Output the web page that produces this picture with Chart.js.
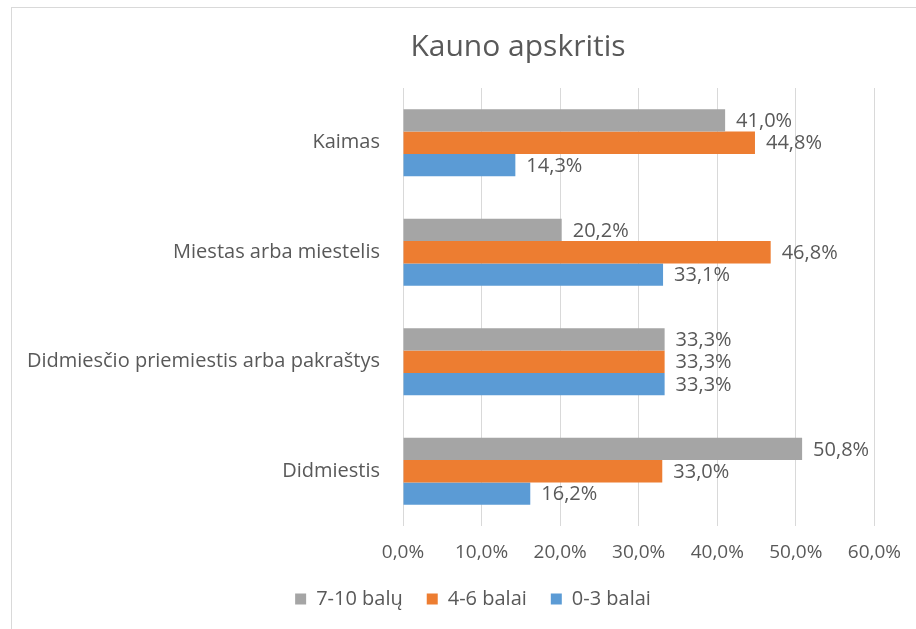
<!DOCTYPE html>
<html>
<head>
<meta charset="utf-8">
<script src="https://cdn.jsdelivr.net/npm/chart.js@4"></script>
<style>
  body { margin: 0; background: #fff; }
  #wrap { position: relative; width: 916px; height: 629px; }
  #frame { position: absolute; left: 11px; top: 7px; right: -2px; bottom: -2px; border-left: 1px solid #d9d9d9; border-top: 1px solid #d9d9d9; pointer-events: none; }
  canvas { position: absolute; left: 0; top: 0; }
</style>
</head>
<body>
<div id="wrap">
  <canvas id="chart" width="916" height="629"></canvas>
  <div id="frame"></div>
</div>
<script>
const categories = ['Kaimas', 'Miestas arba miestelis', 'Didmiesčio priemiestis arba pakraštys', 'Didmiestis'];
const seriesNames = ['7-10 balų', '4-6 balai', '0-3 balai'];
const high = [41.0, 20.2, 33.3, 50.8];
const mid = [44.8, 46.8, 33.3, 33.0];
const low = [14.3, 33.1, 33.3, 16.2];
const colors = ['#a5a5a5', '#ed7d31', '#5b9bd5'];
const chartTitle = 'Kauno apskritis';

const textColor = '#595959';
const fontFamily = '"Open Sans", Lato, sans-serif';

function pct(v) {
    return v.toFixed(1).replace('.', ',') + '%';
}

// Value labels at the end of each bar + title drawn off-centre like the original
const barLabels = {
    id: 'barLabels',
    afterLayout(chart) {
        // legend in the original sits a bit right of centre
        if (chart.legend) {
            chart.legend.left = 68;
            chart.legend.right = 878;
            chart.legend.width = 810;
        }
    },
    afterDatasetsDraw(chart) {
        const ctx = chart.ctx;
        ctx.save();
        ctx.font = '20px ' + fontFamily;
        ctx.fillStyle = textColor;
        ctx.textAlign = 'left';
        ctx.textBaseline = 'middle';
        chart.data.datasets.forEach((ds, i) => {
            const meta = chart.getDatasetMeta(i);
            meta.data.forEach((bar, j) => {
                ctx.fillText(pct(ds.data[j]), bar.x + 11, bar.y + 1);
            });
        });
        ctx.font = '30px ' + fontFamily;
        ctx.textAlign = 'center';
        ctx.textBaseline = 'alphabetic';
        ctx.fillText(chartTitle, 518, 56);
        ctx.restore();
    }
};

const ctx = document.getElementById('chart').getContext('2d');
new Chart(ctx, {
    type: 'bar',
    data: {
        labels: categories,
        datasets: [
            { label: seriesNames[0], data: high, backgroundColor: colors[0] },
            { label: seriesNames[1], data: mid, backgroundColor: colors[1] },
            { label: seriesNames[2], data: low, backgroundColor: colors[2] }
        ]
    },
    options: {
        indexAxis: 'y',
        responsive: false,
        animation: false,
        categoryPercentage: 0.61,
        barPercentage: 1.0,
        layout: { padding: { left: 0, right: 36, top: 88, bottom: 10 } },
        plugins: {
            title: { display: false },
            legend: {
                position: 'bottom',
                labels: {
                    color: textColor,
                    font: { family: fontFamily, size: 20 },
                    boxWidth: 11,
                    boxHeight: 11,
                    padding: 24
                }
            },
            tooltip: { enabled: false }
        },
        scales: {
            x: {
                min: 0,
                max: 60,
                afterFit(scale) { scale.height = 39; },
                ticks: {
                    stepSize: 10,
                    color: textColor,
                    font: { family: fontFamily, size: 19 },
                    padding: 15,
                    callback: (v) => pct(v)
                },
                grid: { color: '#d9d9d9', drawTicks: false },
                border: { display: false }
            },
            y: {
                afterFit(scale) { scale.width = 403; },
                ticks: {
                    color: textColor,
                    font: { family: fontFamily, size: 20 },
                    padding: 15
                },
                grid: { display: false },
                border: { display: false }
            }
        }
    },
    plugins: [barLabels]
});
</script>
</body>
</html>
